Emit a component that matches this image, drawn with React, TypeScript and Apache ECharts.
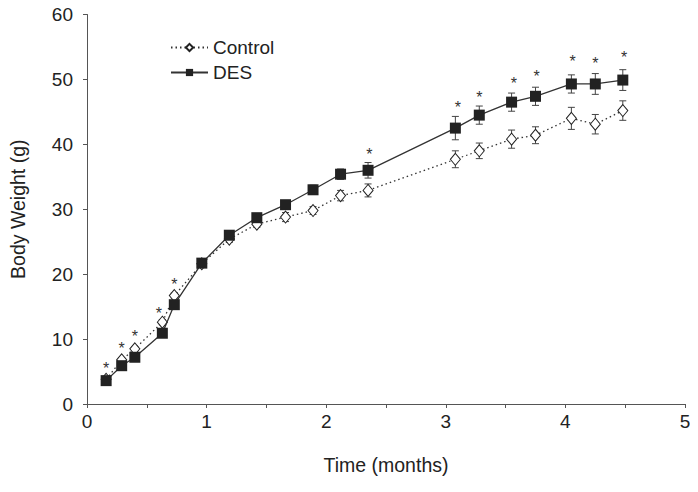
import React, { useEffect, useRef } from "react";
import * as echarts from "echarts";

const time = [0.16, 0.29, 0.40, 0.63, 0.73, 0.96, 1.19, 1.42, 1.66, 1.89, 2.12, 2.35, 3.08, 3.28, 3.55, 3.75, 4.05, 4.25, 4.48];
const control = [3.8, 6.8, 8.5, 12.6, 16.7, 21.6, 25.4, 27.7, 28.8, 29.8, 32.1, 32.9, 37.7, 39.0, 40.8, 41.4, 44.0, 43.1, 45.2];
const controlErr = [0.3, 0.3, 0.3, 0.4, 0.4, 0.4, 0.5, 0.5, 0.7, 0.6, 0.8, 1.0, 1.3, 1.2, 1.4, 1.3, 1.7, 1.5, 1.5];
const des = [3.6, 5.9, 7.2, 10.9, 15.3, 21.7, 26.0, 28.7, 30.7, 33.0, 35.4, 36.0, 42.5, 44.5, 46.5, 47.4, 49.3, 49.3, 49.9];
const desErr = [0.3, 0.3, 0.3, 0.4, 0.4, 0.4, 0.5, 0.6, 0.6, 0.7, 0.8, 1.2, 1.8, 1.4, 1.4, 1.4, 1.4, 1.6, 1.6];
const starX = [0.16, 0.29, 0.40, 0.60, 0.73, 2.36, 3.10, 3.28, 3.57, 3.76, 4.06, 4.25, 4.49];
const starY = [6.1, 9.1, 11.0, 14.6, 19.1, 39.1, 46.3, 47.9, 50.0, 51.0, 53.4, 53.0, 53.95];

const INK = "#222";
const FONT = "Liberation Sans, Arial, sans-serif";

function errSeries(vals: number[], errs: number[], z: number) {
  return {
    type: "custom",
    z,
    silent: true,
    itemStyle: { color: "#444" },
    data: time.map((t, i) => [t, vals[i] - errs[i], vals[i] + errs[i]]),
    renderItem: (params: any, api: any) => {
      const lo = api.coord([api.value(0), api.value(1)]);
      const hi = api.coord([api.value(0), api.value(2)]);
      const w = 3.5;
      const style = { stroke: "#444", lineWidth: 1 };
      return {
        type: "group",
        children: [
          { type: "line", shape: { x1: lo[0], y1: lo[1], x2: hi[0], y2: hi[1] }, style },
          { type: "line", shape: { x1: lo[0] - w, y1: lo[1], x2: lo[0] + w, y2: lo[1] }, style },
          { type: "line", shape: { x1: hi[0] - w, y1: hi[1], x2: hi[0] + w, y2: hi[1] }, style },
        ],
      };
    },
  };
}

export default function App() {
  const ref = useRef<HTMLDivElement>(null);
  useEffect(() => {
    const chart = echarts.init(ref.current!, null, { renderer: "svg" });
    chart.setOption({
      animation: false,
      backgroundColor: "#fff",
      grid: { left: 86.5, right: 13, top: 14.5, bottom: 88 },
      legend: {
        orient: "vertical",
        left: 165,
        top: 33,
        itemWidth: 37,
        itemHeight: 9,
        itemGap: 6,
        textStyle: { fontSize: 19, color: INK, fontFamily: FONT },
        data: ["Control", "DES"],
      },
      xAxis: {
        type: "value",
        min: 0,
        max: 5,
        interval: 0.5,
        name: "Time (months)",
        nameLocation: "middle",
        nameGap: 51,
        nameTextStyle: { fontSize: 19.5, color: INK, fontFamily: FONT },
        axisLine: { lineStyle: { color: "#555", width: 1 } },
        axisTick: { show: true, length: 4, lineStyle: { color: "#555" } },
        axisLabel: {
          fontSize: 19,
          color: INK,
          fontFamily: FONT,
          margin: 8,
          formatter: (v: number) => (Math.abs(v - Math.round(v)) < 1e-6 ? String(Math.round(v)) : ""),
        },
        splitLine: { show: false },
      },
      yAxis: {
        type: "value",
        min: 0,
        max: 60,
        interval: 10,
        name: "Body Weight (g)",
        nameLocation: "middle",
        nameGap: 59,
        nameTextStyle: { fontSize: 19.5, color: INK, fontFamily: FONT },
        axisLine: { show: true, lineStyle: { color: "#555", width: 1 } },
        axisTick: { show: true, length: 4, lineStyle: { color: "#555" } },
        axisLabel: { fontSize: 19, color: INK, fontFamily: FONT, margin: 14 },
        splitLine: { show: false },
      },
      series: [
        errSeries(control, controlErr, 2),
        errSeries(des, desErr, 2),
        {
          name: "Control",
          type: "line",
          z: 3,
          data: time.map((t, i) => [t, control[i]]),
          symbol: "diamond",
          symbolSize: [10, 12],
          showAllSymbol: true,
          itemStyle: { color: "#fff", borderColor: INK, borderWidth: 1 },
          lineStyle: { color: "#333", width: 1.3, type: [1.5, 3] },
        },
        {
          name: "DES",
          type: "line",
          z: 4,
          data: time.map((t, i) => [t, des[i]]),
          symbol: "rect",
          symbolSize: 11,
          showAllSymbol: true,
          itemStyle: { color: INK, borderColor: INK, borderWidth: 0 },
          lineStyle: { color: "#333", width: 1.3 },
        },
        {
          type: "custom",
          z: 5,
          silent: true,
          itemStyle: { color: "#333" },
          data: starX.map((x, i) => [x, starY[i]]),
          renderItem: (params: any, api: any) => {
            const p = api.coord([api.value(0), api.value(1)]);
            return {
              type: "text",
              x: p[0],
              y: p[1] + 4,
              style: {
                text: "*",
                fontSize: 16,
                fontFamily: FONT,
                fill: "#333",
                align: "center",
                verticalAlign: "middle",
              },
            };
          },
        },
      ],
    });
    return () => chart.dispose();
  }, []);
  return <div ref={ref} style={{ width: 698, height: 492, margin: -8 }} />;
}
